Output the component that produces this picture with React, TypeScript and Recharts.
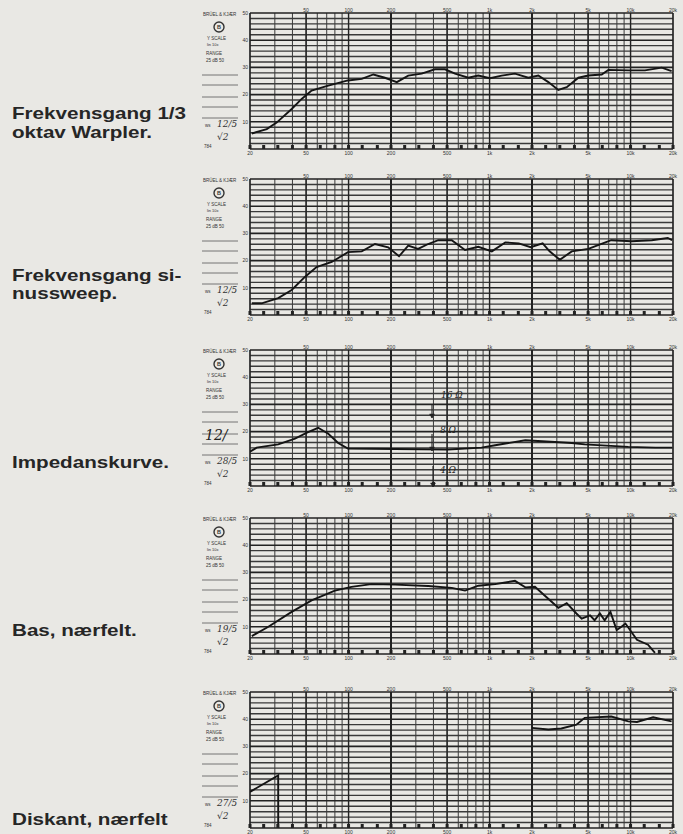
import React from 'react';
import { LineChart, Line, XAxis, YAxis, CartesianGrid, ReferenceLine } from 'recharts';

// grid of the B&K recording paper
const GRID_FREQS = [20, 30, 40, 50, 60, 70, 80, 90, 100, 200, 300, 400, 500, 600, 700, 800, 900, 1000, 2000, 3000, 4000, 5000, 6000, 7000, 8000, 9000, 10000, 20000];
const MAJOR_FREQS = [20, 50, 100, 200, 500, 1000, 2000, 5000, 10000, 20000];
const THIRD_OCTAVE = [20, 25, 31.5, 40, 50, 63, 80, 100, 125, 160, 200, 250, 315, 400, 500, 630, 800, 1000, 1250, 1600, 2000, 2500, 3150, 4000, 5000, 6300, 8000, 10000, 12500, 16000, 20000];
const DB_TICKS = [0, 10, 20, 30, 40, 50];
const DB_MINOR = [2, 4, 6, 8, 12, 14, 16, 18, 22, 24, 26, 28, 32, 34, 36, 38, 42, 44, 46, 48];

// 1/3 oktav warble
const warplerHz = [20.6, 26.3, 30.9, 39.5, 46.5, 54.7, 71.8, 99, 124, 150, 181, 220, 265, 330, 410, 483, 569, 707, 832, 1007, 1219, 1514, 1883, 2218, 2612, 3075, 3527, 4266, 5024, 6243, 6960, 9640, 12650, 16640, 19560];
const warplerDb = [5.7, 7.3, 9.7, 14.7, 18.4, 21.5, 23.3, 25.2, 25.8, 27.4, 26.2, 24.6, 27, 27.7, 29.3, 29.3, 27.7, 26.2, 27, 26, 27, 27.7, 26.2, 27, 24.6, 21.7, 22.7, 26.2, 27, 27.4, 29.1, 28.9, 28.9, 29.9, 28.6];

// sinus sweep
const sweepHz = [20.6, 24.2, 31.7, 39.5, 49, 59.3, 76, 99, 124, 154, 191, 228, 265, 311, 367, 433, 539, 670, 832, 1038, 1293, 1610, 1958, 2380, 2667, 3150, 3830, 5024, 5950, 7300, 10200, 14140, 18350, 19700];
const sweepDb = [4.3, 4.3, 6.2, 9.2, 14, 17.6, 19.5, 23.1, 23.4, 26.1, 24.9, 21.6, 25.5, 24.3, 26.1, 27.5, 27.5, 23.9, 25.1, 23.4, 26.7, 26.3, 24.9, 26.3, 23.4, 20.3, 23.4, 24.3, 25.8, 27.5, 27.1, 27.5, 28.3, 27.5];

// impedance
const impHz = [20, 22.3, 31.7, 41.7, 51.6, 60.9, 71.8, 84.4, 99, 214, 509, 877, 1096, 1793, 3830, 4730, 9640, 15000, 19700];
const impDb = [12.6, 14.1, 15.3, 17.4, 19.8, 21.4, 19.2, 15.8, 13.8, 13.6, 13.4, 14.1, 15, 16.8, 15.8, 15.3, 14.4, 14.1, 14.1];

// bass, near field
const basHz = [20.6, 27, 39.5, 54.7, 80, 105, 145, 214, 367, 539, 670, 832, 1096, 1293, 1514, 1793, 2099, 2458, 3075, 3527, 4130, 4500, 5160, 5560, 6060, 6550, 7200, 7970, 8620, 9200, 11100, 13300, 14900];
const basDb = [6.6, 10, 15.5, 19.7, 23.3, 24.7, 25.7, 25.5, 25, 24.3, 23.3, 25.1, 25.7, 26.3, 26.9, 24.5, 24.7, 21.5, 17, 18.7, 14.9, 13, 14.2, 12.4, 14.9, 12.4, 15.5, 8.8, 10, 11.2, 5.2, 3.4, 0.4];

// tweeter, near field (pen lifted between the two parts)
const diskLowHz = [20, 31.7, 31.7];
const diskLowDb = [13.3, 19.3, 0];
const diskHighHz = [2000, 2612, 3230, 4130, 4730, 7300, 9640, 11100, 14460, 19560];
const diskHighDb = [36.8, 36.2, 36.6, 38, 40.5, 41, 39.2, 39, 40.7, 39.2];

const zip = (hz: number[], db: number[]) => hz.map((f, i) => ({ f, db: db[i] }));

const PANELS = [
  { top: 13, series: [zip(warplerHz, warplerDb)], note: '12/5' },
  { top: 179, series: [zip(sweepHz, sweepDb)], note: '12/5' },
  { top: 350, series: [zip(impHz, impDb)], note: '28/5' },
  { top: 518, series: [zip(basHz, basDb)], note: '19/5' },
  { top: 692, series: [zip(diskLowHz, diskLowDb), zip(diskHighHz, diskHighDb)], note: '27/5' },
];

const TITLES = [
  { text: 'Frekvensgang 1/3', y: 119 },
  { text: 'oktav Warpler.', y: 138 },
  { text: 'Frekvensgang si-', y: 281 },
  { text: 'nussweep.', y: 299 },
  { text: 'Impedanskurve.', y: 468 },
  { text: 'Bas, nærfelt.', y: 636 },
  { text: 'Diskant, nærfelt', y: 825 },
];

const INK = '#222';
const PAPER = '#e9e8e4';
const fmtHz = (v: number) => (v >= 1000 ? `${v / 1000}k` : `${v}`);

function TopTick(p: any) {
  const v = p.payload.value;
  if (!MAJOR_FREQS.includes(v) || v === 20) return <g />;
  return (
    <text x={p.x} y={p.y - 1} textAnchor="middle" fontSize={5} fill="#333" fontFamily="Liberation Sans">
      {fmtHz(v)}
    </text>
  );
}

function BottomTick(p: any) {
  const v = p.payload.value;
  return (
    <g>
      <rect x={p.x - 1.5} y={p.y - 4} width={3} height={4} fill={INK} />
      {MAJOR_FREQS.includes(v) && (
        <text x={p.x} y={p.y + 6} textAnchor="middle" fontSize={5} fill="#333" fontFamily="Liberation Sans">
          {fmtHz(v)}
        </text>
      )}
    </g>
  );
}

function Panel({ top, series }: { top: number; series: { f: number; db: number }[][] }) {
  return (
    <div style={{ position: 'absolute', left: 195, top: top - 12, width: 488, height: 160 }}>
      <LineChart width={488} height={160} margin={{ top: 2, right: 10, bottom: 2, left: 0 }}>
        <XAxis xAxisId="top" orientation="top" dataKey="f" type="number" scale="log" domain={[20, 20000]}
          ticks={GRID_FREQS} height={10} axisLine={false} tickLine={false} tickSize={0} tickMargin={0}
          tick={TopTick} interval={0} allowDataOverflow />
        <XAxis xAxisId="bot" orientation="bottom" dataKey="f" type="number" scale="log" domain={[20, 20000]}
          ticks={THIRD_OCTAVE} height={10} axisLine={false} tickLine={false} tickSize={0} tickMargin={0}
          tick={BottomTick} interval={0} allowDataOverflow />
        <YAxis type="number" domain={[0, 50]} ticks={DB_TICKS} width={55} axisLine={false} tickLine={false}
          tickSize={0} tickMargin={2} interval={0}
          tick={{ fontSize: 5, fill: '#333', fontFamily: 'Liberation Sans' }}
          tickFormatter={(v: number) => (v > 0 ? `${v}` : '')} allowDataOverflow />
        <CartesianGrid xAxisId="top" horizontal={false} stroke="#3a3a3a" strokeWidth={1} />
        {DB_MINOR.map((v) => (
          <ReferenceLine key={`m${v}`} xAxisId="top" y={v} stroke="#3a3a3a" strokeWidth={1.4} />
        ))}
        {DB_TICKS.map((v) => (
          <ReferenceLine key={`y${v}`} xAxisId="top" y={v} stroke={INK} strokeWidth={1.6} />
        ))}
        {MAJOR_FREQS.map((f) => (
          <ReferenceLine key={`x${f}`} xAxisId="top" x={f} stroke={INK} strokeWidth={f === 200 || f === 2000 ? 2 : 1.4} />
        ))}
        {series.map((s, i) => (
          <Line key={i} xAxisId="top" data={s} dataKey="db" type="linear" stroke="#141414" strokeWidth={1.9}
            dot={false} isAnimationActive={false} />
        ))}
      </LineChart>
    </div>
  );
}

function Arrow({ x, y1, y2 }: { x: number; y1: number; y2: number }) {
  return (
    <g stroke={INK} strokeWidth={1.1} fill={INK}>
      <line x1={x} y1={y1} x2={x} y2={y2} />
      <polygon points={`${x - 2.5},${y2 - 4} ${x + 2.5},${y2 - 4} ${x},${y2}`} strokeWidth={0.5} />
    </g>
  );
}

export default function App() {
  return (
    <div style={{ position: 'absolute', left: 0, top: 0, width: 683, height: 834, background: PAPER, overflow: 'hidden' }}>
      {PANELS.map((p, i) => (
        <Panel key={i} top={p.top} series={p.series} />
      ))}
      <svg width={683} height={834} style={{ position: 'absolute', left: 0, top: 0, pointerEvents: 'none' }}>
        {TITLES.map((t) => (
          <text key={t.text} transform={`translate(12,${t.y}) scale(1.25,1)`} fontSize={16.5} fontWeight="bold"
            fontFamily="Liberation Sans, Arial, sans-serif" fill="#262626">
            {t.text}
          </text>
        ))}
        {PANELS.map((p, i) => {
          const T = p.top;
          return (
            <g key={i} fontFamily="Liberation Sans" fill="#333">
              <text x={203} y={T + 3} fontSize={4.5}>BRÜEL &amp; KJÆR</text>
              <circle cx={219} cy={T + 14} r={5} fill="none" stroke="#333" strokeWidth={1.4} />
              <text x={219} y={T + 16} fontSize={5.5} textAnchor="middle" fontWeight="bold">B</text>
              <text x={207} y={T + 27} fontSize={4.5}>Y SCALE</text>
              <text x={207} y={T + 33} fontSize={4}>lin        10x</text>
              <text x={206} y={T + 42} fontSize={4.5}>RANGE</text>
              <text x={206} y={T + 49} fontSize={4.5}>25 dB 50</text>
              {[62, 72, 84, 94, 105].map((d) => (
                <line key={d} x1={202} x2={238} y1={T + d} y2={T + d} stroke="#555" strokeWidth={0.8} />
              ))}
              <text x={205} y={T + 114} fontSize={4.5}>ws</text>
              <text x={217} y={T + 114} fontSize={9} fontStyle="italic" fontFamily="DejaVu Serif">{p.note}</text>
              <text x={217} y={T + 127} fontSize={9} fontStyle="italic" fontFamily="DejaVu Serif">√2</text>
              <text x={204} y={T + 135} fontSize={4.5}>784</text>
            </g>
          );
        })}
        <g fontFamily="DejaVu Serif" fontStyle="italic" fill={INK}>
          <text x={205} y={440} fontSize={14}>12/</text>
          <text x={441} y={398} fontSize={9}>16 Ω</text>
          <text x={440} y={433} fontSize={9}>8 Ω</text>
          <text x={440} y={473} fontSize={9}>4 Ω</text>
        </g>
        <Arrow x={432} y1={404} y2={418} />
        <Arrow x={432} y1={434} y2={451} />
        <Arrow x={433} y1={466} y2={487} />
      </svg>
    </div>
  );
}
